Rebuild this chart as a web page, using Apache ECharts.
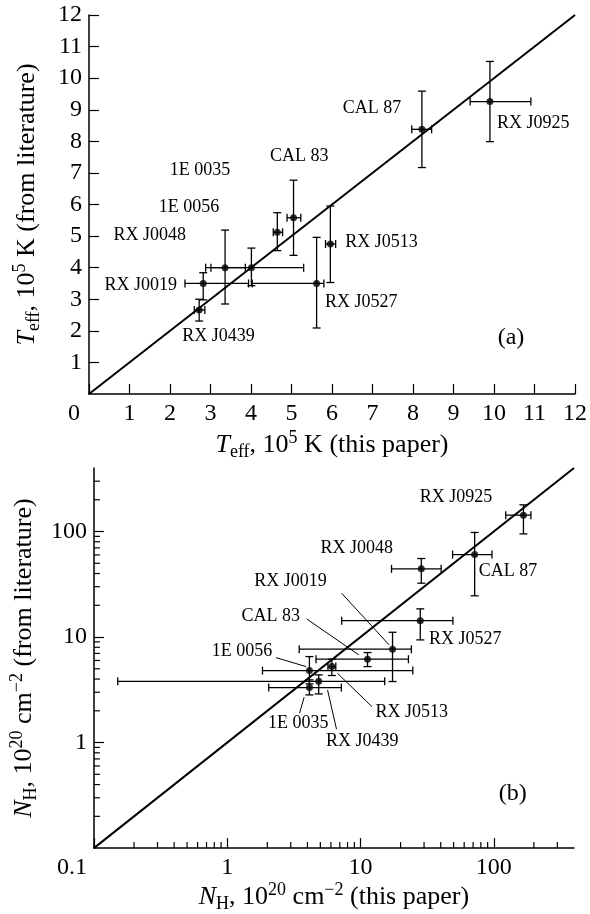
<!DOCTYPE html>
<html><head><meta charset="utf-8">
<script src="https://cdn.jsdelivr.net/npm/echarts@6/dist/echarts.min.js"></script>
<style>html,body{margin:0;padding:0;background:#fff}#c{width:590px;height:914px}</style>
</head><body><div id="c"></div>
<script>
// ---------- Panel (a): Teff, 10^5 K ----------
const srcA      = ['CAL 87','RX J0925','CAL 83','1E 0056','RX J0513','1E 0035','RX J0048','RX J0019','RX J0527','RX J0439'];
const teffThis   = [8.22, 9.90, 5.05, 4.65, 5.96, 4.01, 3.36, 2.82, 5.62, 2.72];
const teffThisLo = [7.97, 9.41, 4.89, 4.55, 5.84, 3.01, 2.88, 2.37, 4.03, 2.60];
const teffThisHi = [8.46,10.91, 5.23, 4.78, 6.09, 5.30, 3.86, 3.94, 5.80, 2.86];
const teffLit    = [8.38, 9.26, 5.58, 5.12, 4.75, 4.00, 4.00, 3.50, 3.50, 2.66];
const teffLitLo  = [7.17, 7.99, 4.39, 4.54, 3.53, 3.43, 2.85, 2.98, 2.09, 2.31];
const teffLitHi  = [9.59,10.53, 6.77, 5.74, 5.95, 4.62, 5.19, 3.84, 4.96, 3.00];
const diagA = [0, 12];

// ---------- Panel (b): NH, 10^20 cm^-2 ----------
const srcB     = ['RX J0925','CAL 87','RX J0048','RX J0527','RX J0019','CAL 83','RX J0513','1E 0056','1E 0035','RX J0439'];
const nhThis   = [167, 71.9, 28.6, 28.1, 17.4, 11.3, 6.10, 4.14, 4.14, 4.86];
const nhThisLo = [123, 49.1, 17.1, 7.23, 3.47, 4.64, 5.70, 1.84, 2.05, 0.151];
const nhThisHi = [190, 97.0, 40.3, 49.4, 24.1, 22.9, 6.53, 24.7, 7.19, 15.2];
const nhLit    = [143, 60.5, 44.3, 14.3, 7.67, 6.17, 5.25, 4.81, 3.32, 3.81];
const nhLitLo  = [95.0, 24.6, 32.4, 9.4, 3.79, 5.25, 4.32, 3.60, 2.83, 2.89];
const nhLitHi  = [179, 98.0, 55.5, 18.5, 11.1, 7.13, 6.17, 6.53, 3.93, 4.38];
const diagB = [0.1, 400];
const minorTicksB = [0.2,0.3,0.4,0.5,0.6,0.7,0.8,0.9,2,3,4,5,6,7,8,9,20,30,40,50,60,70,80,90,200,300];

// ---------- annotations (text, x, y in data units) ----------
const annotA = [['CAL 87',6.99,9.05],['RX J0925',10.97,8.57],['CAL 83',5.19,7.54],['1E 0035',2.74,7.07],
  ['1E 0056',2.47,5.91],['RX J0048',1.50,5.03],['RX J0513',7.22,4.80],['RX J0019',1.28,3.43],
  ['RX J0527',6.72,2.89],['RX J0439',3.20,1.84]];
const panelA = [['(a)',10.42,1.77]];
const annotB = [['RX J0925',52.0,211],['RX J0048',9.39,69.5],['CAL 87',127.7,41.8],['RX J0019',2.98,33.6],
  ['CAL 83',2.12,15.6],['RX J0527',61.0,9.6],['1E 0056',1.29,7.29],['RX J0513',24.3,1.94],
  ['1E 0035',3.41,1.52],['RX J0439',10.3,1.04]];
const panelB = [['(b)',139,0.331]];
const leadersB = [[7.23,26.0,16.4,8.43],[3.96,14.8,9.72,6.78],[2.32,6.39,3.91,5.25],
  [6.72,4.54,12.2,2.19],[3.78,2.69,3.49,1.90],[5.66,3.16,6.61,1.34]];

const FF = '"Liberation Serif", "Times New Roman", serif';
const richName = {
  n:{fontFamily:FF,fontSize:26,lineHeight:32,color:'#000'},
  i:{fontFamily:FF,fontSize:26,lineHeight:32,fontStyle:'italic',color:'#000'},
  sub:{fontFamily:FF,fontSize:18,lineHeight:13,verticalAlign:'bottom',color:'#000'},
  sup:{fontFamily:FF,fontSize:18,lineHeight:13,verticalAlign:'top',color:'#000'}
};
const axLine = {show:true,onZero:false,lineStyle:{color:'#000',width:1.5}};
const axTick = {show:true,inside:true,length:10,lineStyle:{color:'#000',width:1.2}};
const axLab = {color:'#000',fontFamily:FF,fontSize:24};

function errSeries(xi, x, xl, xh, y, yl, yh){
  const data = x.map((v,i)=>[v, y[i], xl[i], xh[i], yl[i], yh[i]]);
  return {type:'custom', xAxisIndex:xi, yAxisIndex:xi, data, clip:false, silent:true, z:3,
    renderItem:(params, api)=>{
      const X=api.value(0), Y=api.value(1);
      const a=api.coord([api.value(2),Y]), b=api.coord([api.value(3),Y]);
      const c=api.coord([X,api.value(4)]), d=api.coord([X,api.value(5)]);
      const w=4, st={stroke:'#000',lineWidth:1.3};
      const L=(x1,y1,x2,y2)=>({type:'line',shape:{x1,y1,x2,y2},style:st});
      return {type:'group',children:[
        L(a[0],a[1],b[0],b[1]), L(a[0],a[1]-w,a[0],a[1]+w), L(b[0],b[1]-w,b[0],b[1]+w),
        L(c[0],c[1],d[0],d[1]), L(c[0]-w,c[1],c[0]+w,c[1]), L(d[0]-w,d[1],d[0]+w,d[1])
      ]};
    }};
}
function textSeries(xi, items, size){
  return {type:'custom', xAxisIndex:xi, yAxisIndex:xi, data:items.map(d=>[d[1],d[2]]), clip:false, silent:true, z:4,
    renderItem:(params, api)=>{
      const p=api.coord([api.value(0),api.value(1)]);
      return {type:'text', x:p[0], y:p[1], style:{text:items[params.dataIndex][0], fill:'#000',
        font:size+'px '+FF, align:'center', verticalAlign:'middle'}};
    }};
}
function leaderSeries(xi, items){
  return {type:'custom', xAxisIndex:xi, yAxisIndex:xi, data:items, clip:false, silent:true, z:3,
    renderItem:(params, api)=>{
      const p=api.coord([api.value(0),api.value(1)]), q=api.coord([api.value(2),api.value(3)]);
      return {type:'line', shape:{x1:p[0],y1:p[1],x2:q[0],y2:q[1]}, style:{stroke:'#000',lineWidth:1}};
    }};
}
function minorTickSeries(xi, vals, lo){
  const data = vals.map(v=>[v]);
  return {type:'custom', xAxisIndex:xi, yAxisIndex:xi, data, clip:false, silent:true, z:5,
    encode:{x:0,y:0},
    renderItem:(params, api)=>{
      const v=api.value(0);
      const px=api.coord([v, lo]), py=api.coord([lo, v]);
      const st={stroke:'#000',lineWidth:1.2};
      return {type:'group',children:[
        {type:'line',shape:{x1:px[0],y1:px[1],x2:px[0],y2:px[1]-6},style:st},
        {type:'line',shape:{x1:py[0],y1:py[1],x2:py[0]+6,y2:py[1]},style:st}
      ]};
    }};
}

const chart = echarts.init(document.getElementById('c'), null, {renderer:'canvas'});
chart.setOption({
  animation:false,
  backgroundColor:'#fff',
  grid:[{left:89,top:15,width:487,height:379},{left:89,top:468,width:485,height:383}],
  xAxis:[
    {type:'value',gridIndex:0,min:0,max:12,interval:1,splitLine:{show:false},axisLine:axLine,axisTick:axTick,
     axisLabel:Object.assign({},axLab,{margin:8,
       formatter:v=>v===0?'{z|0}':String(v),
       rich:{z:{fontFamily:FF,fontSize:24,color:'#000',padding:[0,30,0,0]}}}),
     name:'{i|T}{sub|eff}{n|, 10}{sup|5}{n| K (this paper)}',nameLocation:'middle',nameGap:35,
     nameTextStyle:{rich:richName}},
    {type:'log',gridIndex:1,min:0.1,max:400,logBase:10,splitLine:{show:false},axisLine:axLine,axisTick:axTick,
     axisLabel:Object.assign({},axLab,{margin:8,showMaxLabel:false,
       formatter:v=>Math.abs(v-0.1)<1e-9?'{z|0.1}':String(Math.round(v)),
       rich:{z:{fontFamily:FF,fontSize:24,color:'#000',padding:[0,44,0,0]}}}),
     name:'{i|N}{sub|H}{n|, 10}{sup|20}{n| cm}{sup|−2}{n| (this paper)}',nameLocation:'middle',nameGap:32,
     nameTextStyle:{rich:richName}}
  ],
  yAxis:[
    {type:'value',gridIndex:0,min:0,max:12,interval:1,splitLine:{show:false},axisLine:axLine,axisTick:axTick,
     axisLabel:Object.assign({},axLab,{margin:7,showMinLabel:false}),
     name:'{i|T}{sub|eff}{n|, 10}{sup|5}{n| K (from literature)}',nameLocation:'middle',nameGap:46,nameRotate:90,
     nameTextStyle:{rich:richName}},
    {type:'log',gridIndex:1,min:0.1,max:400,logBase:10,splitLine:{show:false},axisLine:axLine,axisTick:axTick,
     axisLabel:Object.assign({},axLab,{margin:7,showMinLabel:false,showMaxLabel:false,
       formatter:v=>String(Math.round(v))}),
     name:'{i|N}{sub|H}{n|, 10}{sup|20}{n| cm}{sup|−2}{n| (from literature)}',nameLocation:'middle',nameGap:46,nameRotate:90,
     nameTextStyle:{rich:richName}}
  ],
  series:[
    {type:'line',xAxisIndex:0,yAxisIndex:0,data:diagA.map(v=>[v,v]),symbol:'none',lineStyle:{color:'#000',width:2},silent:true,z:2},
    {type:'line',xAxisIndex:1,yAxisIndex:1,data:diagB.map(v=>[v,v]),symbol:'none',lineStyle:{color:'#000',width:2},silent:true,z:2},
    errSeries(0, teffThis, teffThisLo, teffThisHi, teffLit, teffLitLo, teffLitHi),
    errSeries(1, nhThis, nhThisLo, nhThisHi, nhLit, nhLitLo, nhLitHi),
    {type:'scatter',xAxisIndex:0,yAxisIndex:0,data:teffThis.map((v,i)=>({name:srcA[i],value:[v,teffLit[i]]})),
     symbolSize:7,itemStyle:{color:'#000'},z:6,silent:true},
    {type:'scatter',xAxisIndex:1,yAxisIndex:1,data:nhThis.map((v,i)=>({name:srcB[i],value:[v,nhLit[i]]})),
     symbolSize:7,itemStyle:{color:'#000'},z:6,silent:true},
    textSeries(0, annotA, 18),
    textSeries(0, panelA, 24),
    textSeries(1, annotB, 18),
    textSeries(1, panelB, 24),
    leaderSeries(1, leadersB),
    minorTickSeries(1, minorTicksB, 0.1)
  ]
});
</script></body></html>
